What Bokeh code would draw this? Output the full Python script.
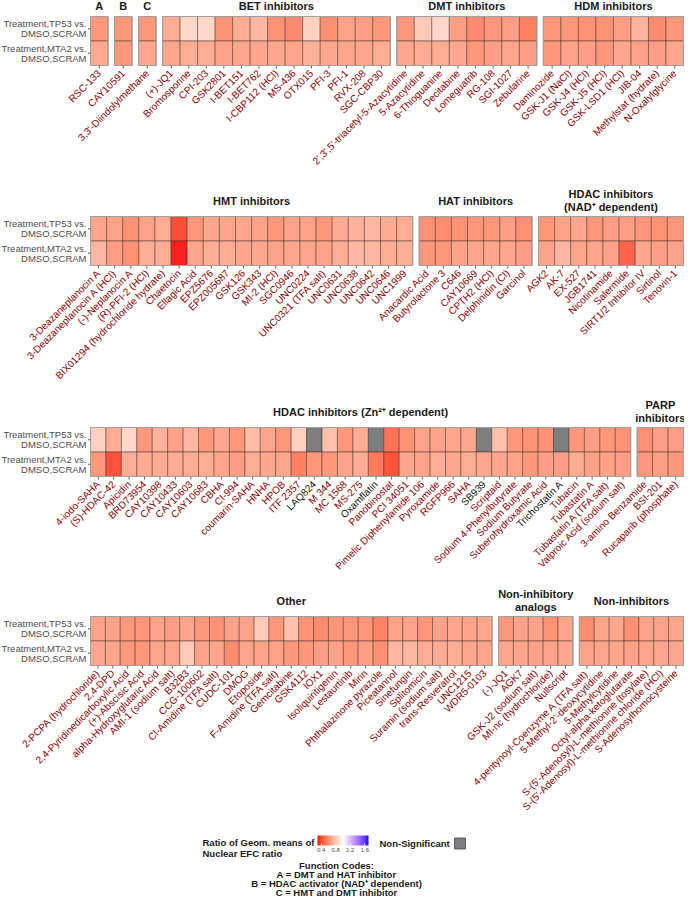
import math
import numpy as np
from bokeh.plotting import figure
from bokeh.models import ColumnDataSource, Range1d, LinearColorMapper, ColorBar, FixedTicker
from bokeh.core.properties import value
from bokeh.embed import file_html
from bokeh.resources import INLINE

# ------------------------------------------------------------------ data
row_labels = ["Treatment,TP53 vs.\nDMSO,SCRAM", "Treatment,MTA2 vs.\nDMSO,SCRAM"]

# ---- row 1
cmp_A = ["RSC-133"]
tp53_A = [0.58]
mta2_A = [0.645]
cmp_B = ["CAY10591"]
tp53_B = [0.58]
mta2_B = [0.58]
cmp_C = ["3,3'-Diindolylmethane"]
tp53_C = [0.58]
mta2_C = [0.64]
cmp_BET = ["(+)-JQ1", "Bromosporine", "CPI-203", "GSK2801", "I-BET151", "I-BET762",
           "I-CBP112 (HCl)", "MS-436", "OTX015", "PFI-3", "PFI-1", "RVX-208", "SGC-CBP30"]
tp53_BET = [0.66, 0.83, 0.83, 0.56, 0.66, 0.70, 0.56, 0.53, 0.80, 0.55, 0.62, 0.61, 0.58]
mta2_BET = [0.63, 0.66, 0.66, 0.62, 0.63, 0.64, 0.64, 0.63, 0.68, 0.64, 0.63, 0.64, 0.66]
cmp_DMT = ["2',3',5'-triacetyl-5-Azacytidine", "5-Azacytidine", "6-Thioguanine", "Decitabine",
           "Lomeguatrib", "RG-108", "SGI-1027", "Zebularine"]
tp53_DMT = [0.58, 0.78, 0.83, 0.61, 0.53, 0.57, 0.61, 0.50]
mta2_DMT = [0.64, 0.66, 0.66, 0.64, 0.58, 0.61, 0.63, 0.61]
cmp_HDM = ["Daminozide", "GSK-J1 (NaCl)", "GSK-J4 (HCl)", "GSK-J5 (HCl)", "GSK-LSD1 (HCl)",
           "JIB-04", "Methylstat (hydrate)", "N-Oxalylglycine"]
tp53_HDM = [0.58, 0.58, 0.56, 0.56, 0.61, 0.68, 0.53, 0.58]
mta2_HDM = [0.58, 0.62, 0.61, 0.58, 0.64, 0.62, 0.61, 0.63]

# ---- row 2
cmp_HMT = ["3-Deazaneplanocin A", "3-Deazaneplanocin A (HCl)", "(-)-Neplanocin A", "(R)-PFI-2 (HCl)",
           "BIX01294 (hydrochloride hydrate)", "Chaetocin", "Ellagic Acid", "EPZ5676", "EPZ005687",
           "GSK126", "GSK343", "MI-2 (HCl)", "SGC0946", "UNC0224", "UNC0321 (TFA salt)", "UNC0631",
           "UNC0638", "UNC0642", "UNC0646", "UNC1999"]
tp53_HMT = [0.63, 0.62, 0.56, 0.62, 0.66, 0.36, 0.58, 0.63, 0.63, 0.63,
            0.62, 0.58, 0.62, 0.62, 0.58, 0.65, 0.68, 0.70, 0.65, 0.66]
mta2_HMT = [0.70, 0.61, 0.56, 0.67, 0.66, 0.30, 0.63, 0.66, 0.66, 0.64,
            0.64, 0.62, 0.64, 0.63, 0.62, 0.66, 0.71, 0.70, 0.66, 0.67]
cmp_HAT = ["Anacardic Acid", "Butyrolactone 3", "C646", "CAY10669", "CPTH2 (HCl)",
           "Delphinidin (Cl)", "Garcinol"]
tp53_HAT = [0.56, 0.54, 0.56, 0.57, 0.57, 0.61, 0.55]
mta2_HAT = [0.58, 0.57, 0.62, 0.63, 0.63, 0.63, 0.61]
cmp_NAD = ["AGK2", "AK-7", "EX-527", "JGB1741", "Nicotinamide", "Salermide",
           "SIRT1/2 Inhibitor IV", "Sirtinol", "Tenovin-1"]
tp53_NAD = [0.57, 0.62, 0.64, 0.58, 0.61, 0.61, 0.57, 0.56, 0.57]
mta2_NAD = [0.62, 0.70, 0.63, 0.63, 0.62, 0.41, 0.63, 0.61, 0.62]

# ---- row 3  (None = non-significant)
cmp_ZN = ["4-iodo-SAHA", "(S)-HDAC-42", "Apicidin", "BRD73954", "CAY10398", "CAY10433", "CAY10603",
          "CAY10683", "CBHA", "CI-994", "coumarin-SAHA", "HNHA", "HPOB", "ITF 2357", "LAQ824",
          "M 344", "MC 1568", "MS-275", "Oxamflatin", "Panobinostat", "PCI 34051",
          "Pimelic Diphenylamide 106", "Pyroxamide", "RGFP966", "SAHA", "SB939", "Scriptaid",
          "Sodium 4-Phenylbutyrate", "Sodium Butyrate", "Suberohydroxamic Acid", "Trichostatin A",
          "Tubacin", "Tubastatin A", "Tubastatin A (TFA salt)", "Valproic Acid (sodium salt)"]
tp53_ZN = [0.80, 0.66, 0.83, 0.58, 0.68, 0.62, 0.70, 0.58, 0.64, 0.57, 0.73, 0.63, 0.58, 0.80, None,
           0.74, 0.58, 0.66, None, 0.45, 0.56, 0.62, 0.62, 0.63, 0.64, None, 0.74, 0.58, 0.56, 0.56,
           None, 0.58, 0.61, 0.58, 0.56]
mta2_ZN = [0.58, 0.37, 0.66, 0.66, 0.66, 0.66, 0.66, 0.66, 0.63, 0.61, 0.66, 0.64, 0.63, 0.50, 0.58,
           0.58, 0.62, 0.66, 0.47, 0.37, 0.63, 0.62, 0.66, 0.64, 0.66, 0.64, 0.64, 0.62, 0.58, 0.61,
           0.61, 0.66, 0.62, 0.62, 0.61]
cmp_PARP = ["3-amino Benzamide", "BSI-201", "Rucaparib (phosphate)"]
tp53_PARP = [0.55, 0.61, 0.61]
mta2_PARP = [0.57, 0.61, 0.58]

# ---- row 4
cmp_OTH = ["2-PCPA (hydrochloride)", "2,4-DPD", "2,4-Pyridinedicarboxylic Acid", "(+)-Abscisic Acid",
           "alpha-Hydroxyglutaric Acid", "AMI-1 (sodium salt)", "B32B3", "CCG-100602",
           "Cl-Amidine (TFA salt)", "CUDC-101", "DMOG", "Etoposide", "F-Amidine (TFA salt)",
           "Gemcitabine", "GSK4112", "IOX1", "Isoliquiritigenin", "Lestaurtinib", "Mirin",
           "Phthalazinone pyrazole", "Piceatannol", "Sinefungin", "Splitomicin",
           "Suramin (sodium salt)", "trans-Resveratrol", "UNC1215", "WDR5-0103"]
tp53_OTH = [0.62, 0.62, 0.58, 0.57, 0.62, 0.61, 0.63, 0.58, 0.56, 0.62, 0.62, 0.78, 0.58, 0.74,
            0.56, 0.54, 0.57, 0.57, 0.57, 0.51, 0.62, 0.62, 0.57, 0.62, 0.63, 0.62, 0.63]
mta2_OTH = [0.64, 0.63, 0.58, 0.57, 0.63, 0.63, 0.78, 0.62, 0.63, 0.54, 0.63, 0.62, 0.62, 0.58,
            0.58, 0.61, 0.62, 0.57, 0.61, 0.55, 0.70, 0.70, 0.66, 0.66, 0.66, 0.63, 0.63]
cmp_ANA = ["(-)-JQ1", "AGK7", "GSK-J2 (sodium salt)", "MI-nc (hydrochloride)", "Nullscript"]
tp53_ANA = [0.58, 0.62, 0.62, 0.56, 0.63]
mta2_ANA = [0.63, 0.63, 0.62, 0.62, 0.64]
cmp_NON = ["4-pentynoyl-Coenzyme A (TFA salt)", "5-Methyl-2'-deoxycytidine", "5-Methylcytidine",
           "Octyl-alpha-ketoglutarate", "S-(5'-Adenosyl)-L-methionine (tosylate)",
           "S-(5'-Adenosyl)-L-methionine chloride (HCl)", "S-Adenosylhomocysteine"]
tp53_NON = [0.54, 0.63, 0.64, 0.55, 0.62, 0.62, 0.63]
mta2_NON = [0.62, 0.63, 0.63, 0.62, 0.63, 0.64, 0.64]

colorbar_ticks = [0.4, 0.8, 1.2, 1.6]
legend_title = ["Ratio of Geom. means of", "Nuclear EFC ratio"]
ns_label = "Non-Significant"
function_codes = ["Function Codes:", "A = DMT and HAT inhibitor",
                  "B = HDAC activator (NAD\u207a dependent)", "C = HMT and DMT inhibitor"]

rows = [
    [("A", cmp_A, tp53_A, mta2_A), ("B", cmp_B, tp53_B, mta2_B), ("C", cmp_C, tp53_C, mta2_C),
     ("BET inhibitors", cmp_BET, tp53_BET, mta2_BET), ("DMT inhibitors", cmp_DMT, tp53_DMT, mta2_DMT),
     ("HDM inhibitors", cmp_HDM, tp53_HDM, mta2_HDM)],
    [("HMT inhibitors", cmp_HMT, tp53_HMT, mta2_HMT), ("HAT inhibitors", cmp_HAT, tp53_HAT, mta2_HAT),
     ("HDAC inhibitors\n(NAD\u207a dependent)", cmp_NAD, tp53_NAD, mta2_NAD)],
    [("HDAC inhibitors (Zn\u00b2\u207a dependent)", cmp_ZN, tp53_ZN, mta2_ZN),
     ("PARP\ninhibitors", cmp_PARP, tp53_PARP, mta2_PARP)],
    [("Other", cmp_OTH, tp53_OTH, mta2_OTH), ("Non-inhibitory\nanalogs", cmp_ANA, tp53_ANA, mta2_ANA),
     ("Non-inhibitors", cmp_NON, tp53_NON, mta2_NON)],
]

# ------------------------------------------------------------------ colour scale (Lab gradient2)
def _srgb_to_lab(rgb):
    def lin(c):
        c = c / 255.0
        return c / 12.92 if c <= 0.04045 else ((c + 0.055) / 1.055) ** 2.4
    r, g, b = (lin(c) for c in rgb)
    X = 0.4124564 * r + 0.3575761 * g + 0.1804375 * b
    Y = 0.2126729 * r + 0.7151522 * g + 0.0721750 * b
    Z = 0.0193339 * r + 0.1191920 * g + 0.9503041 * b
    d = 6 / 29
    def f(t):
        return t ** (1 / 3) if t > d ** 3 else t / (3 * d * d) + 4 / 29
    fx, fy, fz = f(X / 0.95047), f(Y), f(Z / 1.08883)
    return (116 * fy - 16, 500 * (fx - fy), 200 * (fy - fz))

def _lab_to_hex(L, a, b):
    d = 6 / 29
    fy = (L + 16) / 116
    fx = fy + a / 500
    fz = fy - b / 200
    def finv(t):
        return t ** 3 if t > d else 3 * d * d * (t - 4 / 29)
    X, Y, Z = 0.95047 * finv(fx), finv(fy), 1.08883 * finv(fz)
    r = 3.2404542 * X - 1.5371385 * Y - 0.4985314 * Z
    g = -0.9692660 * X + 1.8760108 * Y + 0.0415560 * Z
    bb = 0.0556434 * X - 0.2040259 * Y + 1.0572252 * Z
    def gam(c):
        c = min(max(c, 0.0), 1.0)
        v = 12.92 * c if c <= 0.0031308 else 1.055 * c ** (1 / 2.4) - 0.055
        return int(round(v * 255))
    return "#%02x%02x%02x" % (gam(r), gam(g), gam(bb))

lab_low = _srgb_to_lab((255, 0, 0))
lab_mid = _srgb_to_lab((255, 255, 255))
lab_high = _srgb_to_lab((0, 0, 255))
palette = []
NPAL = 256
for i in range(NPAL):
    s = i / (NPAL - 1)
    if s < 0.5:
        t = s / 0.5
        lab = [lab_low[k] + (lab_mid[k] - lab_low[k]) * t for k in range(3)]
    else:
        t = (s - 0.5) / 0.5
        lab = [lab_mid[k] + (lab_high[k] - lab_mid[k]) * t for k in range(3)]
    palette.append(_lab_to_hex(*lab))

mapper = LinearColorMapper(palette=palette, low=0.3, high=1.7, nan_color="#6c6c6c",
                           low_color=palette[0], high_color=palette[-1])

# ------------------------------------------------------------------ layout constants
W, H = 684, 900
PX0, PX1 = 90.0, 683.0
GAP = 6.5
RH = 24.5
row_tops = [16.0, 216.0, 427.0, 616.0]
FONT = value("Liberation Sans")
LABEL_RED = "#8B0000"

p = figure(width=W, height=H, x_range=Range1d(0, W), y_range=Range1d(H, 0),
           output_backend="svg", toolbar_location=None,
           x_axis_location=None, y_axis_location=None, min_border=0)
p.outline_line_color = None
p.grid.grid_line_color = None
p.background_fill_color = "white"
p.border_fill_color = "white"

# ranges for each row
extra = {}
row_geom = []
for k, groups in enumerate(rows):
    N = sum(len(g[1]) for g in groups)
    G = len(groups)
    c = (PX1 - PX0 - (G - 1) * GAP) / N
    gp = GAP / c
    U = N + (G - 1) * gp
    extra["row%d" % k] = Range1d(-PX0 / c, U + (W - PX1) / c)
    row_geom.append(gp)
p.extra_x_ranges = extra

for k, groups in enumerate(rows):
    rname = "row%d" % k
    gp = row_geom[k]
    top = row_tops[k]
    bottom = top + 2 * RH
    tx, ty, tv = [], [], []
    lx, lname, lcol = [], [], []
    pcx, pw = [], []
    ttx, tty, ttt = [], [], []
    off = 0.0
    for gi, (gname, cmps, v1, v2) in enumerate(groups):
        n = len(cmps)
        for j, name in enumerate(cmps):
            xc = off + j + 0.5
            a = np.nan if v1[j] is None else v1[j]
            b = np.nan if v2[j] is None else v2[j]
            tx += [xc, xc]
            ty += [top + RH * 0.5, top + RH * 1.5]
            tv += [a, b]
            lx.append(xc)
            lname.append(name)
            lcol.append("#111111" if (v1[j] is None or v2[j] is None) else LABEL_RED)
        pcx.append(off + n / 2.0)
        pw.append(n)
        lines = gname.split("\n")
        if len(lines) == 1:
            ys = [top - (10.5 if k == 0 else 16.0)]
        else:
            ys = [top - 22.5, top - 10.0]
        for ln, yy in zip(lines, ys):
            ttx.append(off + n / 2.0)
            tty.append(yy)
            ttt.append(ln)
        off += n + gp

    src = ColumnDataSource(dict(x=tx, y=ty, v=np.array(tv, dtype=float)))
    p.rect(x="x", y="y", width=1, height=RH, source=src, x_range_name=rname,
           fill_color={"field": "v", "transform": mapper}, fill_alpha=0.88,
           line_color="#2a2a2a", line_alpha=0.6, line_width=0.7)
    p.rect(x=pcx, y=[top + RH] * len(pcx), width=pw, height=2 * RH, x_range_name=rname,
           fill_color=None, line_color="#a0a0a0", line_width=1.1)
    lsrc = ColumnDataSource(dict(x=lx, name=lname, color=lcol))
    p.segment(x0="x", x1="x", y0=bottom + 0.5, y1=bottom + 3.0, source=lsrc, x_range_name=rname,
              line_color="#333333", line_width=0.8)
    p.text(x="x", y=bottom + 6.0, text="name", source=lsrc, x_range_name=rname,
           angle=math.pi / 4, text_align="right", text_baseline="middle",
           text_font=FONT, text_font_size="10px", text_color="color")
    p.text(x=ttx, y=tty, text=ttt, x_range_name=rname, text_align="center",
           text_baseline="middle", text_font=FONT, text_font_size="11px",
           text_font_style="bold", text_color="#1a1a1a")

    # y labels + ticks
    yl_y, yl_t = [], []
    for r, lab in enumerate(row_labels):
        cy = top + RH * (r + 0.5)
        l1, l2 = lab.split("\n")
        yl_y += [cy - 5.2, cy + 5.2]
        yl_t += [l1, l2]
        p.segment(x0=PX0 - 2.5, x1=PX0, y0=cy, y1=cy, line_color="#333333", line_width=0.8)
    p.text(x=[PX0 - 4.0] * len(yl_y), y=yl_y, text=yl_t, text_align="right",
           text_baseline="middle", text_font=FONT, text_font_size="9.5px", text_color="#4d4d4d")

# ------------------------------------------------------------------ legend
p.text(x=[202, 202], y=[842, 853], text=legend_title, text_align="left", text_baseline="middle",
       text_font=FONT, text_font_size="9.5px", text_font_style="bold", text_color="#1a1a1a")

cbar = ColorBar(color_mapper=mapper, orientation="horizontal", location=(317, 46),
                width=51, height=10, padding=0, ticker=FixedTicker(ticks=colorbar_ticks),
                major_label_text_font_size="6px", major_label_text_color="#4d4d4d",
                major_label_text_font="Liberation Sans",
                major_tick_line_color="white", major_tick_in=2, major_tick_out=0,
                label_standoff=2, bar_line_color=None, border_line_color=None,
                background_fill_color=None)
p.add_layout(cbar)

p.text(x=[379], y=[843], text=[ns_label], text_align="left", text_baseline="middle",
       text_font=FONT, text_font_size="9.5px", text_font_style="bold", text_color="#1a1a1a")
p.rect(x=[459.5], y=[843], width=11, height=11, fill_color="#7f7f7f", line_color="#444444",
       line_width=0.8)

p.text(x=[336] * 4, y=[865, 874, 883, 892], text=function_codes, text_align="center",
       text_baseline="middle", text_font=FONT, text_font_size="9.5px", text_font_style="bold",
       text_color="#1a1a1a")

open("out.html", "w").write(file_html(p, INLINE))
